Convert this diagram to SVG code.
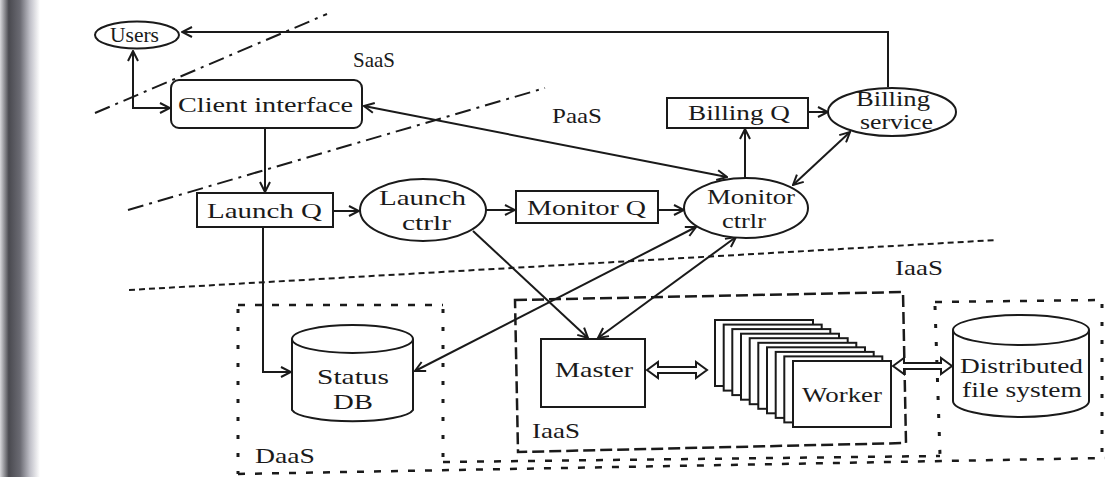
<svg xmlns="http://www.w3.org/2000/svg" width="1105" height="477" viewBox="0 0 1105 477">
<style>
.t{font-family:"Liberation Serif","Times New Roman",serif;font-size:21px;fill:#1a1a1a}
.s{fill:#fff;stroke:#1a1a1a;stroke-width:2}
.c{fill:none;stroke:#1a1a1a;stroke-width:2}
.dd{fill:none;stroke:#1a1a1a;stroke-width:2;stroke-dasharray:16 6 3 6}
.ds{fill:none;stroke:#1a1a1a;stroke-width:2;stroke-dasharray:6 4}
.db{fill:none;stroke:#1a1a1a;stroke-width:2.5;stroke-dasharray:12 5}
.dt{fill:none;stroke:#1a1a1a;stroke-width:3;stroke-dasharray:4 14}
.dh{fill:none;stroke:#1a1a1a;stroke-width:2.5;stroke-dasharray:7 10}
</style>
<defs>
<linearGradient id="shadow" x1="0" y1="0" x2="1" y2="0">
<stop offset="0" stop-color="#d8d8dc"/>
<stop offset="0.22" stop-color="#4a4a50"/>
<stop offset="0.5" stop-color="#6a6a72"/>
<stop offset="0.75" stop-color="#c0c0c8"/>
<stop offset="1" stop-color="#fff"/>
</linearGradient>
<marker id="a" viewBox="0 0 12 12" refX="11" refY="6" markerWidth="12" markerHeight="12" markerUnits="userSpaceOnUse" orient="auto-start-reverse">
<path d="M1,1 L11,6 L1,11" fill="none" stroke="#1a1a1a" stroke-width="2"/>
</marker>
</defs>
<rect width="1105" height="477" fill="#fff"/>
<rect x="0" y="0" width="40" height="477" fill="url(#shadow)"/>

<g id="boundaries">
<line class="dd" x1="95" y1="113" x2="327" y2="14"/>
<line class="dd" x1="128" y1="210" x2="545" y2="88"/>
<line class="ds" x1="129" y1="290" x2="997" y2="240"/>
<text class="t" x="353" y="67" font-size="19" textLength="42" lengthAdjust="spacingAndGlyphs">SaaS</text>
<text class="t" x="552" y="123" font-size="19" textLength="50" lengthAdjust="spacingAndGlyphs">PaaS</text>
<text class="t" x="895" y="275" font-size="19" textLength="48" lengthAdjust="spacingAndGlyphs">IaaS</text>
</g>

<g id="daas-box">
<line class="dh" x1="238" y1="305" x2="443" y2="305"/>
<line class="dt" x1="238" y1="309" x2="238" y2="474"/>
<line class="dt" x1="443" y1="309" x2="443" y2="462"/>
<text class="t" x="255" y="463" font-size="20" textLength="60" lengthAdjust="spacingAndGlyphs">DaaS</text>
</g>

<g id="iaas-box">
<polygon class="db" points="515,300 903,292 906,443 518,452"/>
<text class="t" x="532" y="438" font-size="20" textLength="48" lengthAdjust="spacingAndGlyphs">IaaS</text>
</g>

<g id="dfs-box">
<line class="dh" x1="935" y1="302" x2="1102" y2="300"/>
<line class="dt" x1="935" y1="306" x2="940" y2="455"/>
<line class="dt" x1="1102" y1="304" x2="1102" y2="455"/>
</g>

<g id="bottom-lines">
<line class="dh" x1="443" y1="462" x2="940" y2="456"/>
<line class="dh" x1="238" y1="474" x2="1105" y2="458"/>
</g>

<g id="connectors">
<polyline class="c" points="888,87 888,32 182,32" marker-end="url(#a)"/>
<polyline class="c" points="133,51 133,108 170,108" marker-start="url(#a)" marker-end="url(#a)"/>
<line class="c" x1="364" y1="106" x2="727" y2="177" marker-start="url(#a)" marker-end="url(#a)"/>
<line class="c" x1="265" y1="128" x2="265" y2="192" marker-end="url(#a)"/>
<line class="c" x1="333" y1="211" x2="359" y2="211" marker-end="url(#a)"/>
<line class="c" x1="486" y1="210" x2="515" y2="210" marker-end="url(#a)"/>
<line class="c" x1="658" y1="210" x2="684" y2="210" marker-end="url(#a)"/>
<line class="c" x1="745" y1="178" x2="745" y2="129" marker-end="url(#a)"/>
<line class="c" x1="808" y1="112" x2="828" y2="112" marker-end="url(#a)"/>
<line class="c" x1="793" y1="185" x2="850" y2="132" marker-start="url(#a)" marker-end="url(#a)"/>
<polyline class="c" points="263,227 263,372 291,372" marker-end="url(#a)"/>
<line class="c" x1="473" y1="231" x2="588" y2="338" marker-end="url(#a)"/>
<line class="c" x1="598" y1="338" x2="736" y2="237" marker-start="url(#a)" marker-end="url(#a)"/>
<line class="c" x1="415" y1="371" x2="696" y2="227" marker-start="url(#a)" marker-end="url(#a)"/>
<polygon class="s" points="647,370 658,362 658,367 696,367 696,362 707,370 696,378 696,373 658,373 658,378"/>
<polygon class="s" points="893,366 904,358 904,363 941,363 941,358 952,366 941,374 941,369 904,369 904,374"/>
</g>

<g id="users">
<ellipse class="s" cx="137" cy="35" rx="42" ry="13.5"/>
<text class="t" x="110" y="42" font-size="19" textLength="49" lengthAdjust="spacingAndGlyphs">Users</text>
</g>

<g id="client-interface">
<rect class="s" x="171" y="80" width="191" height="48" rx="8"/>
<text class="t" x="178" y="112" font-size="22" textLength="175" lengthAdjust="spacingAndGlyphs">Client interface</text>
</g>

<g id="launch-q">
<rect class="s" x="197" y="193" width="136" height="34"/>
<text class="t" x="207" y="218" font-size="22" textLength="115" lengthAdjust="spacingAndGlyphs">Launch Q</text>
</g>

<g id="launch-ctrlr">
<ellipse class="s" cx="423" cy="210" rx="63" ry="31"/>
<text class="t" x="379" y="205" font-size="22" textLength="87" lengthAdjust="spacingAndGlyphs">Launch</text>
<text class="t" x="402" y="230" font-size="22" textLength="49" lengthAdjust="spacingAndGlyphs">ctrlr</text>
</g>

<g id="monitor-q">
<rect class="s" x="516" y="191" width="142" height="32"/>
<text class="t" x="527" y="215" font-size="22" textLength="119" lengthAdjust="spacingAndGlyphs">Monitor Q</text>
</g>

<g id="monitor-ctrlr">
<ellipse class="s" cx="746" cy="208" rx="62" ry="30"/>
<text class="t" x="707" y="204" font-size="22" textLength="88" lengthAdjust="spacingAndGlyphs">Monitor</text>
<text class="t" x="722" y="228" font-size="22" textLength="44" lengthAdjust="spacingAndGlyphs">ctrlr</text>
</g>

<g id="billing-q">
<rect class="s" x="667" y="98" width="141" height="30"/>
<text class="t" x="688" y="120" font-size="21" textLength="102" lengthAdjust="spacingAndGlyphs">Billing Q</text>
</g>

<g id="billing-service">
<ellipse class="s" cx="892" cy="112" rx="64" ry="24"/>
<text class="t" x="856" y="106" font-size="18" textLength="74" lengthAdjust="spacingAndGlyphs">Billing</text>
<text class="t" x="860" y="129" font-size="18" textLength="73" lengthAdjust="spacingAndGlyphs">service</text>
</g>

<g id="status-db">
<path class="s" d="M292,339 L292,410 A61,13 0 0 0 413,410 L413,339"/>
<ellipse class="s" cx="352.5" cy="339" rx="60.5" ry="14"/>
<text class="t" x="317" y="384" font-size="22" textLength="72" lengthAdjust="spacingAndGlyphs">Status</text>
<text class="t" x="333" y="409" font-size="22" textLength="40" lengthAdjust="spacingAndGlyphs">DB</text>
</g>

<g id="master">
<rect class="s" x="541" y="339" width="104" height="68"/>
<text class="t" x="555" y="377" font-size="22" textLength="78" lengthAdjust="spacingAndGlyphs">Master</text>
</g>

<g id="worker">
<rect class="s" x="715" y="320" width="98" height="66"/>
<rect class="s" x="723.7" y="324.6" width="98" height="66"/>
<rect class="s" x="732.3" y="329.1" width="98" height="66"/>
<rect class="s" x="741" y="333.7" width="98" height="66"/>
<rect class="s" x="749.7" y="338.2" width="98" height="66"/>
<rect class="s" x="758.3" y="342.8" width="98" height="66"/>
<rect class="s" x="767" y="347.3" width="98" height="66"/>
<rect class="s" x="775.7" y="351.9" width="98" height="66"/>
<rect class="s" x="784.3" y="356.4" width="98" height="66"/>
<rect class="s" x="793" y="361" width="98" height="66"/>
<text class="t" x="802" y="402" font-size="22" textLength="80" lengthAdjust="spacingAndGlyphs">Worker</text>
</g>

<g id="dfs">
<path class="s" d="M953,330 L953,401 A68,16 0 0 0 1089,401 L1089,330"/>
<ellipse class="s" cx="1021" cy="330" rx="68" ry="15"/>
<text class="t" x="960" y="373" font-size="22" textLength="123" lengthAdjust="spacingAndGlyphs">Distributed</text>
<text class="t" x="962" y="397" font-size="22" textLength="120" lengthAdjust="spacingAndGlyphs">file system</text>
</g>
</svg>
